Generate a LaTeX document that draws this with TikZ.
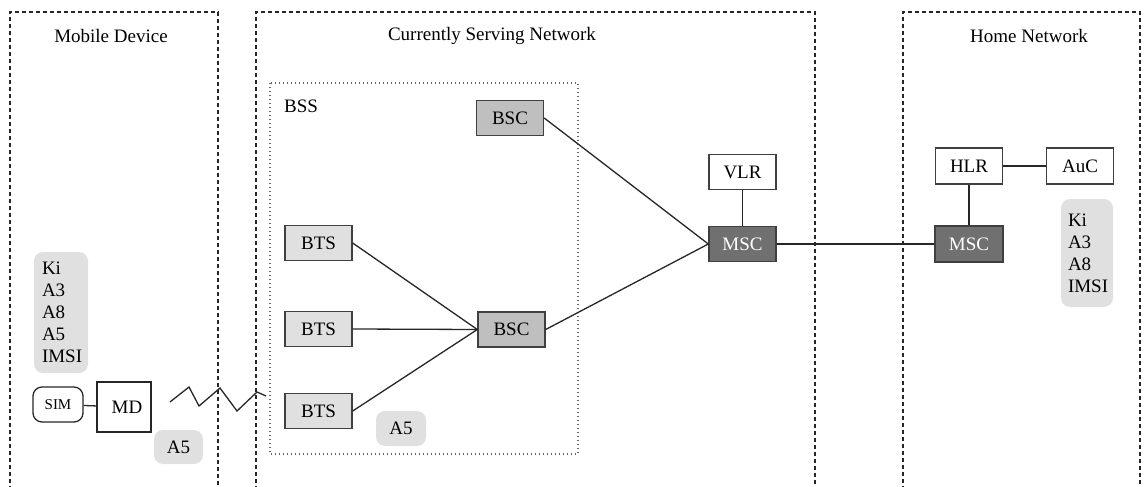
\documentclass[tikz,border=0pt]{standalone}
\usepackage{fontspec}
\setmainfont{Liberation Serif}
\newcommand{\fsz}{\fontsize{19}{22}\selectfont}
\begin{document}
\begin{tikzpicture}[x=1pt,y=-1pt,
  region/.style={draw=black!85, line width=1.2pt, dash pattern=on 4pt off 3pt},
  bssbox/.style={draw=black!60, line width=1.1pt, dash pattern=on 1.2pt off 2.8pt},
  elem/.style={draw=black!75, line width=1.4pt, minimum width=67pt, minimum height=35pt, inner sep=0pt, font=\fsz},
  bsc/.style={elem, fill=black!25},
  bts/.style={elem, fill=black!12},
  msc/.style={elem, fill=black!56, text=white},
  plain/.style={elem, fill=white},
  listbox/.style={fill=black!12, rounded corners=9pt, align=left, font=\fsz, inner ysep=0pt},
  link/.style={draw=black!85, line width=1.3pt},
  lbl/.style={font=\fsz}
]
\useasboundingbox (0,0) rectangle (1144,487);
% regions
\draw[region] (10,490) -- (10,12) -- (218,12) -- (218,490);
\draw[region] (256,490) -- (256,12) -- (815,12) -- (815,490);
\draw[region] (903,490) -- (903,12) -- (1140,12) -- (1140,490);
\node[lbl] (tmd) at (111,36) {Mobile Device};
\node[lbl] (tcs) at (492,36) {Currently Serving Network};
\node[lbl] (thn) at (1029,36) {Home Network};
% BSS
\draw[bssbox] (270,83) rectangle (578,454);
\node[lbl, anchor=west, inner sep=0pt] (tbss) at (284,106) {BSS};
% elements
\node[bsc] (bsc1) at (510,118) {BSC};
\node[bts] (bts1) at (318.5,243) {BTS};
\node[bts] (bts2) at (318.5,329) {BTS};
\node[bts] (bts3) at (318.5,411) {BTS};
\node[bsc] (bsc2) at (511.5,329.5) {BSC};
\node[plain] (vlr) at (742.5,172) {VLR};
\node[msc] (msc1) at (742.5,244) {MSC};
\node[plain, minimum height=36pt] (hlr) at (969,166) {HLR};
\node[plain, minimum height=36pt] (auc) at (1080,166) {AuC};
\node[msc, minimum width=68pt, minimum height=36pt] (msc2) at (969,244) {MSC};
% mobile device
\node[draw=black!85, line width=1.3pt, rounded corners=9pt, minimum width=50pt, minimum height=35pt, inner sep=0pt, font=\fontsize{15}{17}\selectfont] (sim) at (58,404.5) {SIM};
\node[draw=black!85, line width=1.3pt, minimum width=54pt, minimum height=50pt, inner sep=0pt, font=\fsz] (md) at (124,407) {\hspace{6pt}MD};
% lists
\node[listbox, text width=38pt, inner xsep=8pt, minimum height=121pt] (l1) at (61,312.5) {Ki\\A3\\A8\\A5\\IMSI};
\node[listbox, text width=38pt, inner xsep=7pt, minimum height=108pt] (l2) at (1087,253) {Ki\\A3\\A8\\IMSI};
\node[listbox, minimum width=49pt, minimum height=34pt, inner sep=0pt] (a5a) at (178.5,447) {A5};
\node[listbox, minimum width=50pt, minimum height=35pt, inner sep=0pt] (a5b) at (401,428.5) {A5};
% links
\draw[link] (bsc1.east) -- (msc1.west);
\draw[link] (bsc2.east) -- (msc1.west);
\draw[link] (bts1.east) -- (bsc2.west);
\draw[link] (bts2.east) -- (bsc2.west);
\draw[link] (bts3.east) -- (bsc2.west);
\draw[link] (vlr) -- (msc1);
\draw[link] (msc1) -- (msc2);
\draw[link] (hlr) -- (msc2);
\draw[link] (hlr) -- (auc);
\draw[link] (sim) -- (md);
% radio link
\draw[link, line join=miter] (170,402) -- (189,387) -- (199,406) -- (220,388) -- (237,411) -- (257,392) -- (266,396);
\end{tikzpicture}
\end{document}
